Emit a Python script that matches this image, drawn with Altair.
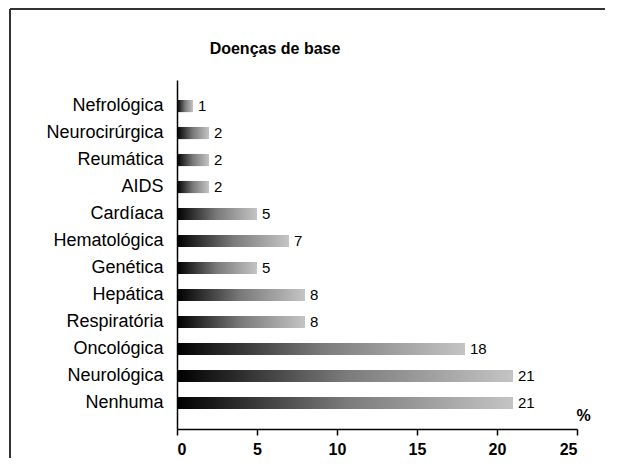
import altair as alt
import pandas as pd

categories = ["Nefrológica", "Neurocirúrgica", "Reumática", "AIDS", "Cardíaca",
              "Hematológica", "Genética", "Hepática", "Respiratória", "Oncológica",
              "Neurológica", "Nenhuma"]
values = [1, 2, 2, 2, 5, 7, 5, 8, 8, 18, 21, 21]
x_ticks = [0, 5, 10, 15, 20, 25]
title_text = "Doenças de base"

df = pd.DataFrame({"cat": categories, "val": values})
FONT = "Liberation Sans"

grad = alt.Gradient(
    gradient="linear",
    stops=[alt.GradientStop(color="#000000", offset=0),
           alt.GradientStop(color="#7a7a7a", offset=0.5),
           alt.GradientStop(color="#c4c4c4", offset=1)],
    x1=0, x2=1, y1=0, y2=0,
)

y_enc = alt.Y("cat:N", sort=categories,
              scale=alt.Scale(paddingInner=0.55, paddingOuter=0.74),
              axis=alt.Axis(title=None, ticks=False, domainColor="black", domainWidth=1.5,
                            labelFont=FONT, labelFontSize=18, labelColor="black",
                            labelPadding=14, labelLimit=300))
x_enc = alt.X("val:Q", scale=alt.Scale(domain=[0, 25], nice=False),
              axis=alt.Axis(values=x_ticks, grid=False, domainColor="black", domainWidth=1.5,
                            tickColor="black", tickSize=6, tickWidth=1.5,
                            labelFont=FONT, labelFontSize=16, labelFontWeight="bold",
                            labelColor="black", labelPadding=6,
                            title="%", titleFont=FONT, titleFontSize=16,
                            titleFontWeight="bold", titleColor="black",
                            titleX=406, titleY=-14, titleAlign="center",
                            titleBaseline="middle"))

bars = alt.Chart(df).mark_bar(color=grad).encode(x=x_enc, y=y_enc)
labels = alt.Chart(df).mark_text(align="left", baseline="middle", dx=5,
                                 font=FONT, fontSize=15, color="black").encode(
    x="val:Q", y=alt.Y("cat:N", sort=categories), text="val:Q")

one = alt.Data(values=[{"t": title_text}])
title = alt.Chart(one).mark_text(font=FONT, fontSize=16, fontWeight="bold", color="black",
                                 align="center", baseline="middle").encode(
    x=alt.value(98), y=alt.value(-31), text="t:N")

# decorative figure frame (top and left edges), in pixels
frame_df = pd.DataFrame({"a": [-167, -167], "b": [428, -167],
                         "c": [-71, -71], "d": [-71, 378]})
frame = alt.Chart(frame_df).mark_rule(color="#333333", strokeWidth=2).encode(
    x=alt.X("a:Q", scale=None), x2="b:Q",
    y=alt.Y("c:Q", scale=None), y2="d:Q")

chart = alt.layer(title, bars, labels, frame).properties(
    width=400, height=349,
    autosize=alt.AutoSizeParams(type="none"),
    padding={"left": 169, "top": 72, "right": 30, "bottom": 30},
).configure_view(stroke=None)

chart.save("out.html", embed_options={"renderer": "svg", "actions": False})
